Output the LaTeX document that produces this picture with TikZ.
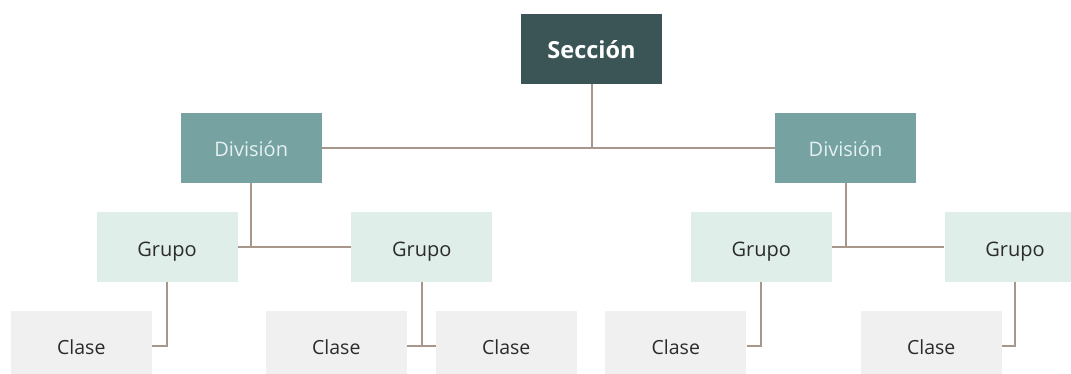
\documentclass[tikz,border=0pt]{standalone}
\usepackage{fontspec}
\setmainfont{Open Sans}
\definecolor{secfill}{HTML}{3B5557}
\definecolor{divfill}{HTML}{76A2A2}
\definecolor{grpfill}{HTML}{DFEEE8}
\definecolor{clsfill}{HTML}{F0F0F0}
\definecolor{linkcol}{HTML}{A8968B}
\definecolor{txtdark}{HTML}{2B2B2B}
\definecolor{txtlight}{HTML}{E6F0F0}
\tikzset{
  box/.style={rectangle, minimum width=141pt, minimum height=70pt, inner sep=0pt,
    text depth=0pt, anchor=center},
  secbox/.style={box, fill=secfill, text=white, text height=20pt,
    font=\fontsize{23.5}{28}\selectfont\bfseries},
  divbox/.style={box, fill=divfill, text=txtlight, text height=17.7pt,
    font=\fontsize{20}{24}\selectfont},
  grpbox/.style={box, fill=grpfill, text=txtdark, text height=18.2pt,
    font=\fontsize{20}{24}\selectfont},
  clsbox/.style={box, fill=clsfill, text=txtdark, text height=17pt,
    font=\fontsize{19.5}{24}\selectfont},
  link/.style={draw=linkcol, line width=2pt}
}
\begin{document}
\begin{tikzpicture}[x=1pt,y=-1pt]
  \useasboundingbox (0,0) rectangle (1071,374);
  \clip (0,0) rectangle (1071,374);
  % top level
  \node[secbox] (s) at (591.5,49) {Sección};
  % divisions
  \node[divbox] (d1) at (251.2,148) {División};
  \node[divbox] (d2) at (845.5,148) {División};
  % groups
  \node[grpbox] (g1) at (167,247) {Grupo};
  \node[grpbox] (g2) at (421.8,247) {Grupo};
  \node[grpbox] (g3) at (761.3,247) {Grupo};
  \node[grpbox] (g4) at (1015,247) {Grupo};
  % classes
  \node[clsbox] (c1) at (81.3,346) {Clase};
  \node[clsbox] (c2) at (336.3,346) {Clase};
  \node[clsbox] (c3) at (506.2,346) {Clase};
  \node[clsbox] (c4) at (675.8,346) {Clase};
  \node[clsbox] (c5) at (931.2,346) {Clase};
  % connectors
  \coordinate (sj) at (s.south |- d1.east);
  \draw[link] (s.south) -- (sj);
  \draw[link] (d1.east) -- (d2.west);
  \coordinate (dj1) at (d1.south |- g1.east);
  \draw[link] (d1.south) -- (dj1);
  \draw[link] (g1.east) -- (g2.west);
  \coordinate (dj2) at (d2.south |- g3.east);
  \draw[link] (d2.south) -- (dj2);
  \draw[link] (g3.east) -- (g4.west);
  \draw[link] (g1.south) |- (c1.east);
  \coordinate (gj2) at (g2.south |- c2.east);
  \draw[link] (g2.south) -- (gj2);
  \draw[link] (c2.east) -- (c3.west);
  \draw[link] (g3.south) |- (c4.east);
  \draw[link] (g4.south) |- (c5.east);
\end{tikzpicture}
\end{document}
